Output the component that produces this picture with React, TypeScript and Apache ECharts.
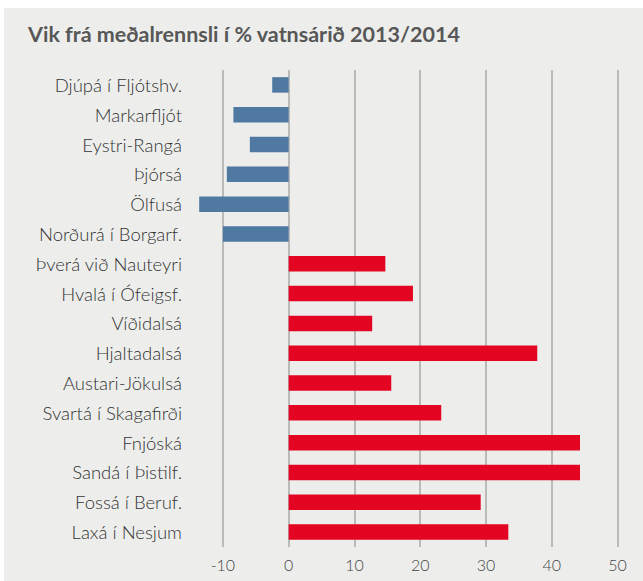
import React, { useEffect, useRef } from "react";
import * as echarts from "echarts";

const categories = [
  "Djúpá í Fljótshv.",
  "Markarfljót",
  "Eystri-Rangá",
  "Þjórsá",
  "Ölfusá",
  "Norðurá í Borgarf.",
  "Þverá við Nauteyri",
  "Hvalá í Ófeigsf.",
  "Víðidalsá",
  "Hjaltadalsá",
  "Austari-Jökulsá",
  "Svartá í Skagafirði",
  "Fnjóská",
  "Sandá í Þistilf.",
  "Fossá í Beruf.",
  "Laxá í Nesjum",
];

const values = [
  -2.5, -8.4, -5.9, -9.4, -13.6, -10.0, 14.7, 18.9, 12.7, 37.8, 15.6, 23.2,
  44.3, 44.3, 29.2, 33.4,
];

const tickValues = [-10, 0, 10, 20, 30, 40, 50];

const titleText = "Vik frá meðalrennsli í % vatnsárið 2013/2014";

export default function App() {
  const ref = useRef<HTMLDivElement>(null);

  useEffect(() => {
    if (!ref.current) return;
    const chart = echarts.init(ref.current, null, { renderer: "svg" });
    chart.setOption({
      animation: false,
      backgroundColor: "#ffffff",
      graphic: [
        {
          type: "rect",
          z: -10,
          silent: true,
          shape: { x: 4, y: 8, width: 639, height: 573 },
          style: { fill: "#edeeec" },
        },
        {
          type: "text",
          left: 28,
          top: 23,
          style: {
            text: titleText,
            fill: "#575757",
            font: "bold 21.5px Lato",
          },
        },
      ],
      grid: { left: 190, right: 25.5, top: 70, bottom: 34 },
      xAxis: {
        type: "value",
        min: -15,
        max: 50,
        interval: 5,
        axisLine: { show: false },
        axisTick: { show: false },
        splitLine: { show: false },
        axisLabel: {
          color: "#444444",
          fontSize: 16,
          fontFamily: "Lato",
          fontWeight: 300,
          margin: 9,
          formatter: (v: number) => (tickValues.includes(v) ? String(v) : ""),
        },
      },
      yAxis: {
        type: "category",
        data: categories,
        inverse: true,
        axisLine: { show: false },
        axisTick: { show: false },
        splitLine: { show: false },
        axisLabel: {
          color: "#333333",
          fontSize: 18.5,
          fontFamily: "Lato",
          fontWeight: 300,
          margin: 8,
        },
      },
      series: [
        {
          type: "bar",
          data: values,
          barWidth: 15.5,
          itemStyle: {
            color: (p: any) => (p.value < 0 ? "#4f79a1" : "#e30521"),
          },
          markLine: {
            silent: true,
            symbol: "none",
            z: 1,
            label: { show: false },
            lineStyle: { color: "#a9aaa8", width: 1.5, type: "solid" },
            data: tickValues.map((v) => ({ xAxis: v })),
          },
          z: 3,
        },
      ],
    });
    return () => chart.dispose();
  }, []);

  return (
    <div
      ref={ref}
      style={{ position: "fixed", left: 0, top: 0, width: 643, height: 581 }}
    />
  );
}
